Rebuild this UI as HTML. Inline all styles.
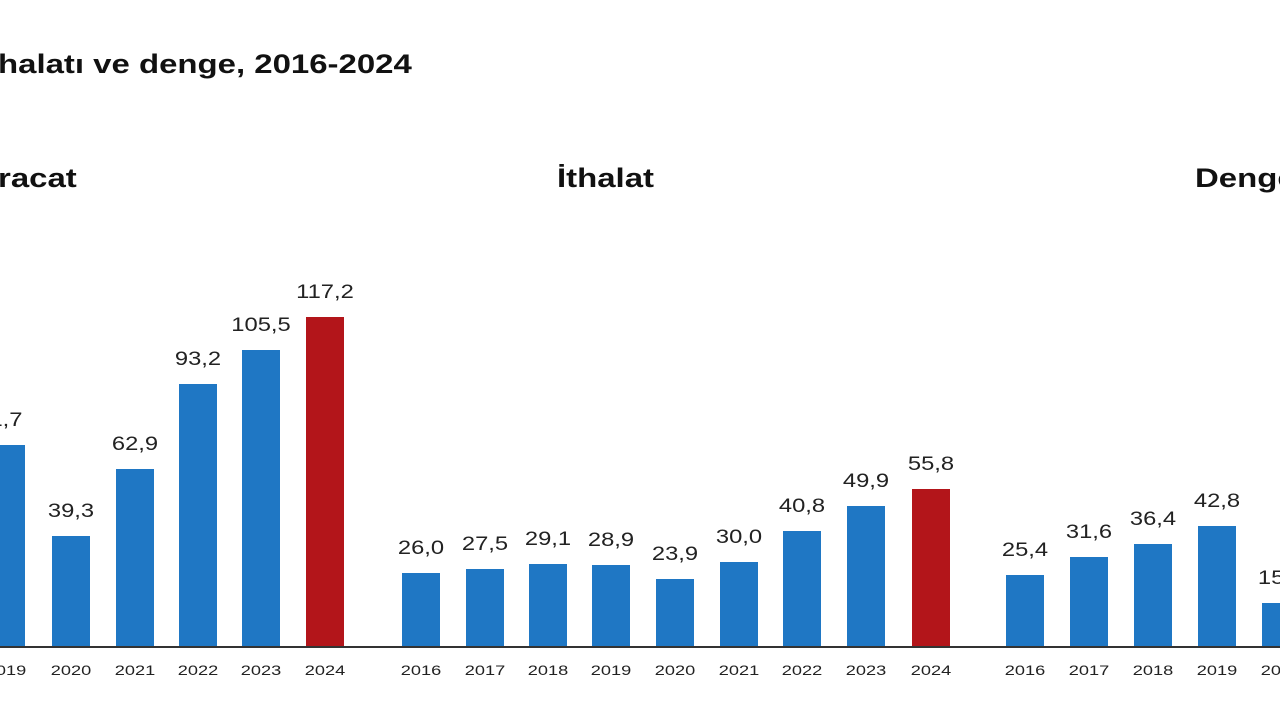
<!DOCTYPE html>
<html><head><meta charset="utf-8"><style>
body{margin:0;width:1280px;height:720px;overflow:hidden;background:#fff;font-family:"Liberation Sans",Arial,sans-serif;position:relative;color:#111}
.t{position:absolute;white-space:nowrap;font-weight:bold;transform:scaleX(1.22);transform-origin:0 0}
.b{position:absolute;width:38px;background:#1f77c4}
.r{background:#b3151a}
.v{position:absolute;width:80px;text-align:center;font-size:19px;color:#222;transform:scaleX(1.25)}
.y{position:absolute;width:60px;text-align:center;font-size:14px;color:#222;top:662px;transform:scaleX(1.3)}
</style></head><body>
<div class="t" style="left:-2px;top:49px;font-size:27px">halatı ve denge, 2016-2024</div>
<div class="t" style="left:-2px;top:163px;font-size:27px">racat</div>
<div class="t" style="left:557px;top:163px;font-size:27px">İthalat</div>
<div class="t" style="left:1195px;top:163px;font-size:27px">Denge</div>
<div style="position:absolute;left:0;width:1280px;top:646px;height:2px;background:#333"></div>
<div id="c"></div>
<script>
var d=[[-13,71.7,'1,7',2019,0],[52,39.3,'39,3',2020,0],[116,62.9,'62,9',2021,0],[179,93.2,'93,2',2022,0],[242,105.5,'105,5',2023,0],[306,117.2,'117,2',2024,1],
[402,26.0,'26,0',2016,0],[466,27.5,'27,5',2017,0],[529,29.1,'29,1',2018,0],[592,28.9,'28,9',2019,0],[656,23.9,'23,9',2020,0],[720,30.0,'30,0',2021,0],[783,40.8,'40,8',2022,0],[847,49.9,'49,9',2023,0],[912,55.8,'55,8',2024,1],
[1006,25.4,'25,4',2016,0],[1070,31.6,'31,6',2017,0],[1134,36.4,'36,4',2018,0],[1198,42.8,'42,8',2019,0],[1262,15.3,'15,3',2020,0]];
var h='';d.forEach(function(e){var ht=Math.round(e[1]*2.81);var top=646-ht;
h+='<div class="b'+(e[4]?' r':'')+'" style="left:'+e[0]+'px;top:'+top+'px;height:'+ht+'px"></div>';
h+='<div class="v" style="left:'+(e[0]-21)+'px;top:'+(top-35)+'px">'+e[2]+'</div>';
h+='<div class="y" style="left:'+(e[0]-11)+'px">'+e[3]+'</div>';});
document.getElementById('c').innerHTML=h;
</script>
</body></html>
